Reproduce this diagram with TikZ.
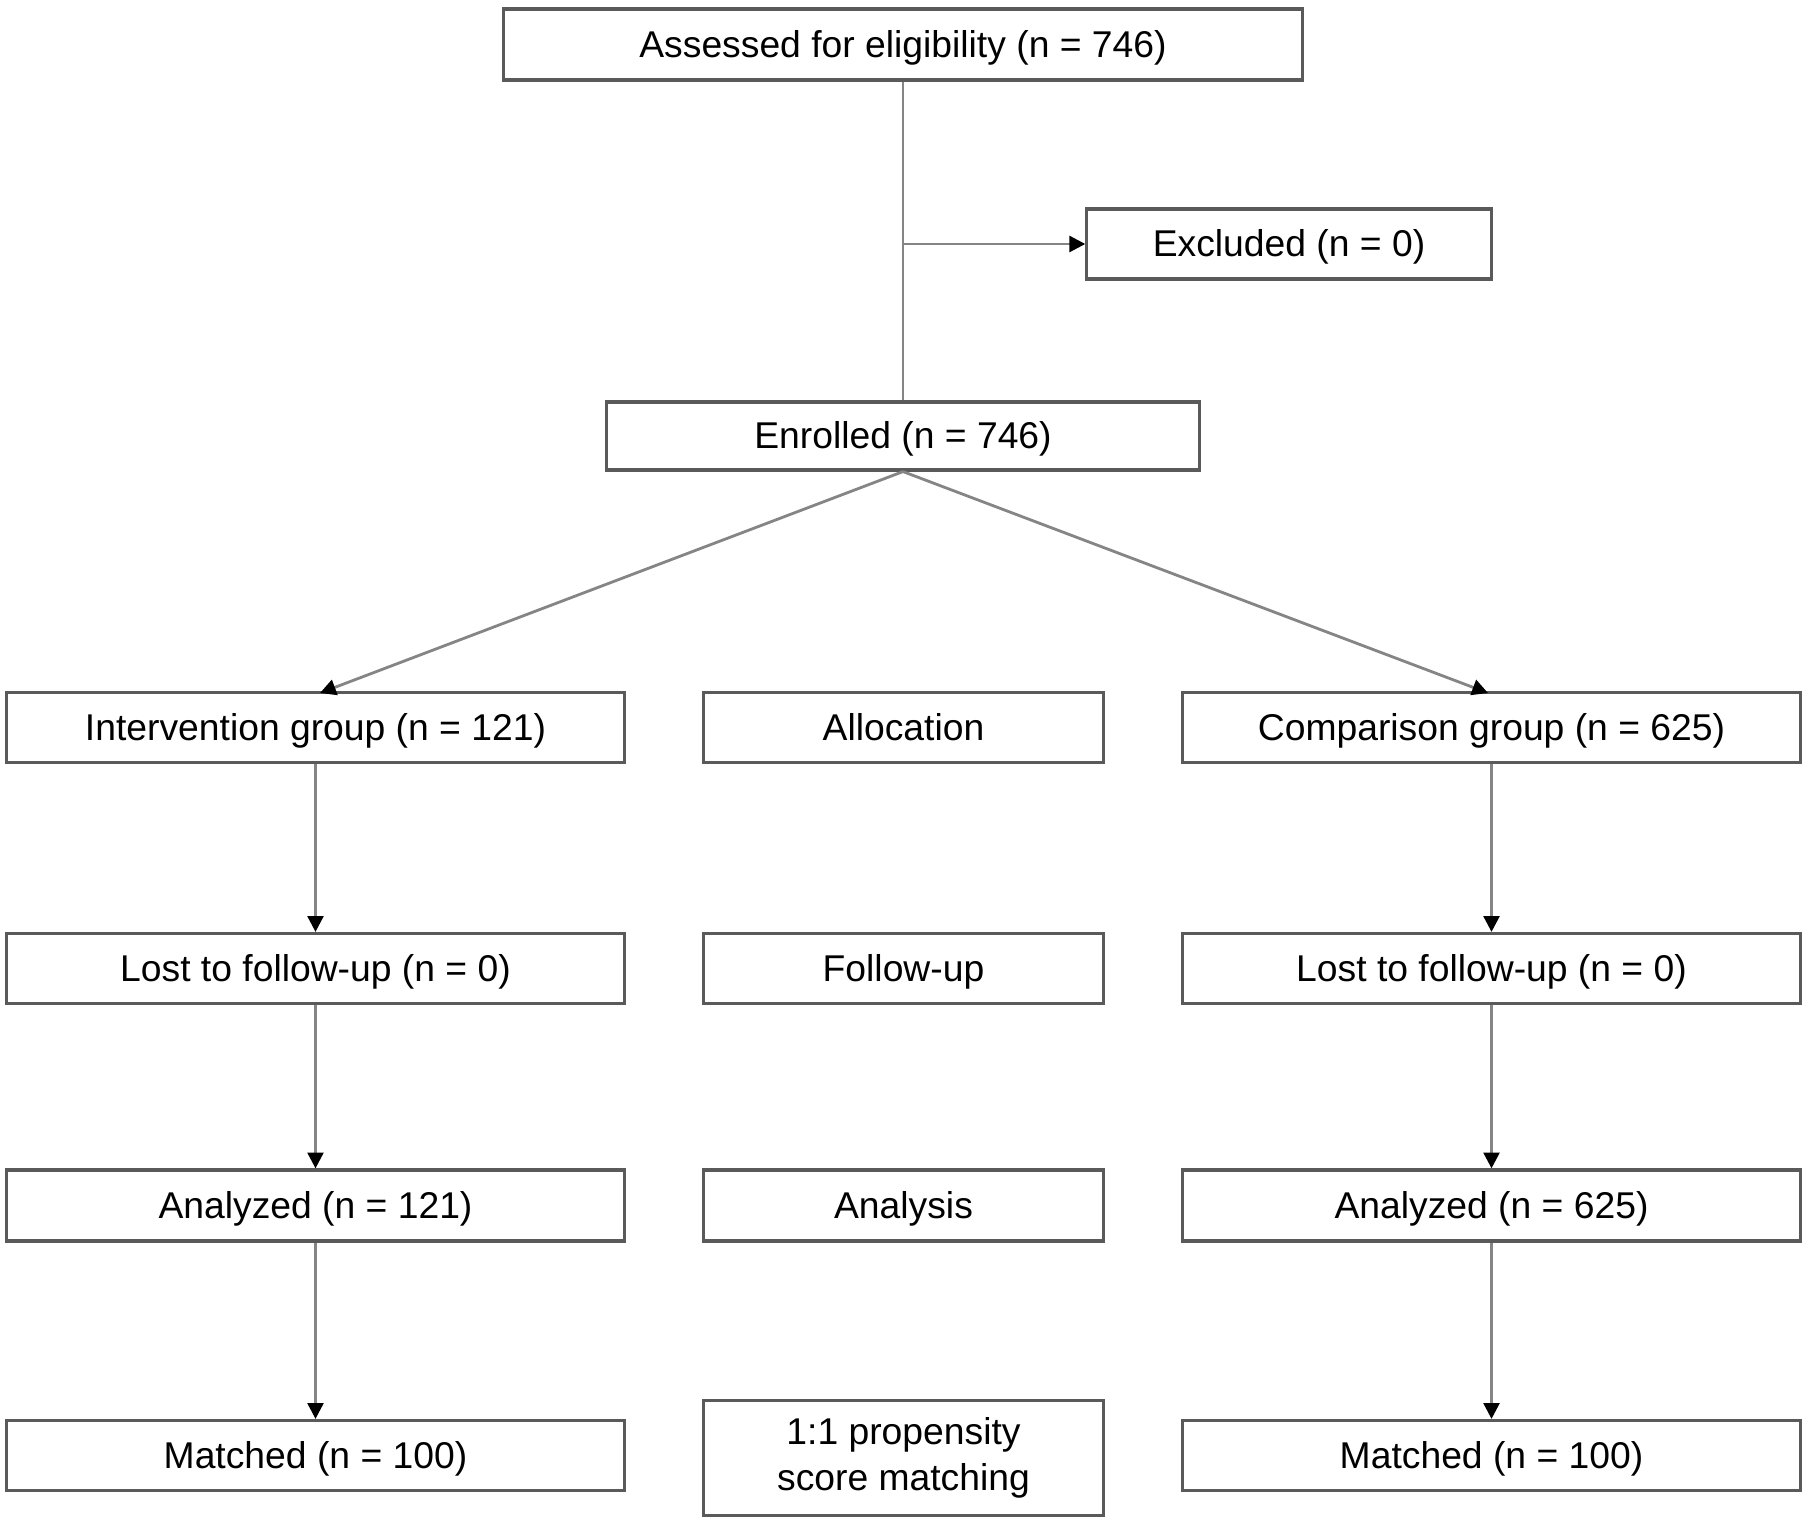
\documentclass[tikz,border=0pt]{standalone}
\usepackage{fontspec}
\setmainfont{Liberation Sans}
\usetikzlibrary{arrows.meta}

\definecolor{boxgray}{HTML}{5A5A5A}
\definecolor{linegray}{HTML}{858585}

\begin{document}
\begin{tikzpicture}[x=0.01cm, y=0.01cm,
    box/.style={draw=boxgray, line width=0.9pt, fill=white, inner sep=0pt,
      minimum height=0.7cm, text height=0.92em, text depth=0.2em,
      font=\fontsize{10.6}{13}\selectfont, align=center},
    widebox/.style={box, minimum width=6.18cm},
    midbox/.style={box, minimum width=3.99cm},
    conn/.style={draw=linegray, line width=0.8pt},
    arr/.style={conn, -{Triangle[length=4.5pt, width=4.5pt, color=black]}}]
        \useasboundingbox (0,0) rectangle (1810,-1522);
        % top part
        \node [box, minimum width=7.98cm, minimum height=0.71cm] (assessed) at (903,-44.5) {Assessed for eligibility (n = 746)};
        \node [box, minimum width=4.04cm] (excluded) at (1289,-244) {Excluded (n = 0)};
        \node [box, minimum width=5.92cm, minimum height=0.68cm] (enrolled) at (903,-436) {Enrolled (n = 746)};
        \coordinate (branch) at (904,-244);
        \draw [conn] (assessed) -- (enrolled);
        \draw [arr] (branch) -- (excluded.west);
        % groups
        \node [widebox] (intgroup) at (315.5,-727.5) {Intervention group (n = 121)};
        \node [midbox] (allocation) at (903.5,-727.5) {Allocation};
        \node [widebox] (compgroup) at (1491.5,-727.5) {Comparison group (n = 625)};
        \node [widebox] (intlost) at (315.5,-968.5) {Lost to follow-up (n = 0)};
        \node [midbox] (followup) at (903.5,-968.5) {Follow-up};
        \node [widebox] (complost) at (1491.5,-968.5) {Lost to follow-up (n = 0)};
        \node [widebox, minimum height=0.71cm] (intanalyzed) at (315.5,-1205.5) {Analyzed (n = 121)};
        \node [midbox, minimum height=0.71cm] (analysis) at (903.5,-1205.5) {Analysis};
        \node [widebox, minimum height=0.71cm] (companalyzed) at (1491.5,-1205.5) {Analyzed (n = 625)};
        \node [widebox] (intmatched) at (315.5,-1455.5) {Matched (n = 100)};
        \node [midbox, minimum height=1.15cm, text height=, text depth=] (psm) at (903.5,-1458) {1:1 propensity\\score matching};
        \node [widebox] (compmatched) at (1491.5,-1455.5) {Matched (n = 100)};
        % arrows
        \coordinate (intin) at (320,-693);
        \coordinate (compin) at (1488,-693);
        \draw [arr] (enrolled.south) -- (intin);
        \draw [arr] (enrolled.south) -- (compin);
        \draw [arr] (intgroup) -- (intlost);
        \draw [arr] (intlost) -- (intanalyzed);
        \draw [arr] (intanalyzed) -- (intmatched);
        \draw [arr] (compgroup) -- (complost);
        \draw [arr] (complost) -- (companalyzed);
        \draw [arr] (companalyzed) -- (compmatched);
\end{tikzpicture}
\end{document}
